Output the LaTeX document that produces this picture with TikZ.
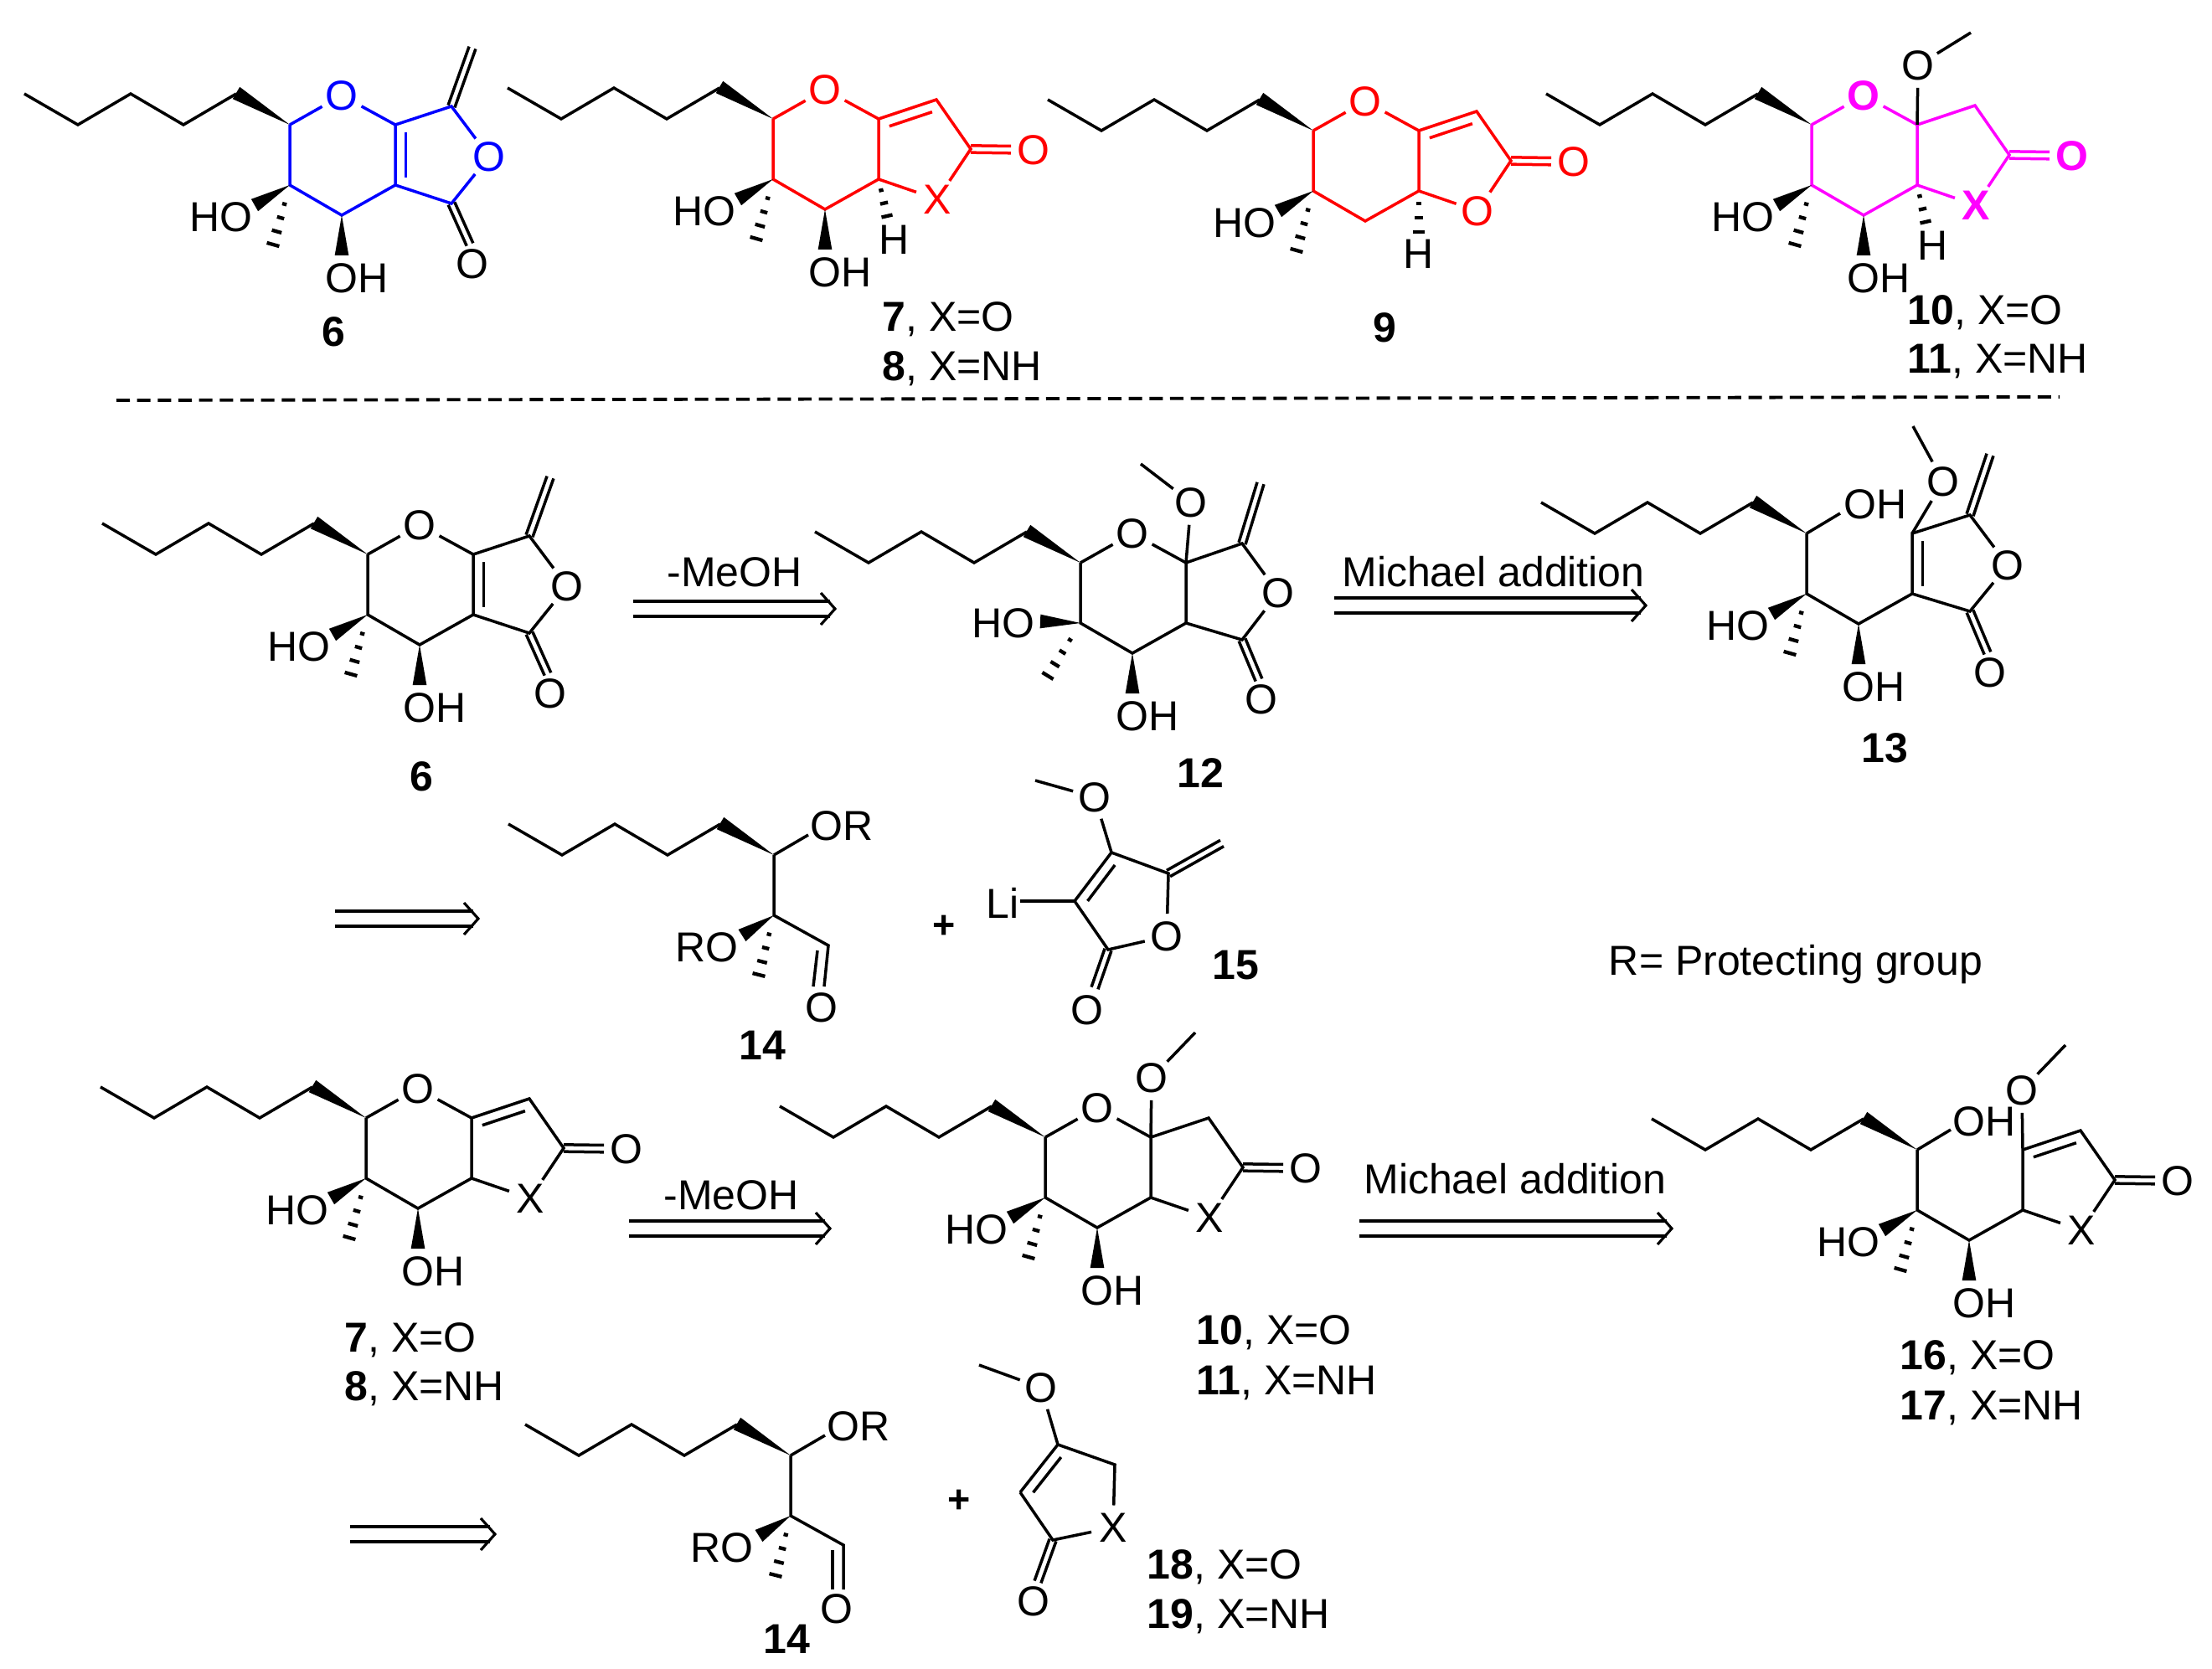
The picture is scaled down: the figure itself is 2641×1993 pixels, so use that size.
\documentclass[tikz,border=0pt]{standalone}
\usepackage{fontspec}
\setmainfont{Liberation Sans}
\usetikzlibrary{calc}
\definecolor{ringblue}{RGB}{0,0,255}
\definecolor{ringred}{RGB}{255,0,0}
\definecolor{ringmag}{RGB}{255,0,255}
\tikzset{
  bond/.style={line width=1.05pt,line join=miter,line cap=butt},
  atom/.style={circle,inner sep=0pt,minimum size=15.5pt,font=\fontsize{15}{18}\selectfont},
  lab/.style={inner sep=0pt,font=\fontsize{15}{18}\selectfont},
  plusmark/.style={inner sep=0pt,font=\fontsize{14}{18}\bfseries\selectfont},
  retroline/.style={line width=1.25pt},
  retrohead/.style={line width=0.95pt,line join=miter},
  sep/.style={line width=1.15pt,dash pattern=on 4.8pt off 2.6pt}
}
% wedge: narrow end at #1, wide end at #2
\newcommand{\wdg}[2]{\fill ($(#2)!2.5pt!90:(#1)$) -- (#1) -- ($(#2)!2.5pt!-90:(#1)$) -- cycle;}
% hashed bonds
\newcommand{\hashb}[2]{%
  \foreach \f/\w in {.32/0.8pt,.55/1.3pt,.78/1.8pt,1/2.3pt}{%
    \coordinate (hh) at ($(#1)!\f!(#2)$);
    \draw[line width=1.3pt] ($(hh)!\w!90:(#1)$) -- ($(hh)!\w!-90:(#1)$);}}
\newcommand{\hashh}[2]{%
  \foreach \f/\w in {.3/0.8pt,.65/1.4pt,1/2pt}{%
    \coordinate (hh) at ($(#1)!\f!(#2)$);
    \draw[line width=1.3pt] ($(hh)!\w!90:(#1)$) -- ($(hh)!\w!-90:(#1)$);}}
% symmetric double bond from coordinate #2 to coordinate #3 (colour/options #1)
\newcommand{\dbl}[3][]{\draw[bond,#1] ($(#2)!1.25pt!90:(#3)$) -- ($(#3)!1.25pt!-90:(#2)$);
  \draw[bond,#1] ($(#2)!1.25pt!-90:(#3)$) -- ($(#3)!1.25pt!90:(#2)$);}
% inner line of a ring double bond
\newcommand{\inn}[4][]{\draw[bond,#1] ($($(#2)!.13!(#3)$)!3.7pt!#4:(#3)$) -- ($($(#3)!.13!(#2)$)!3.7pt!-#4:(#2)$);}
% hexyl-type chain ending at the origin
\newcommand{\chainb}{\draw[bond] (-317,-37) -- (-253,0) -- (-190,-37) -- (-127,0) -- (-64,-37);
  \coordinate (wt) at (0,0); \coordinate (we) at (-64,-38); \wdg{wt}{we}}
\newcommand{\ringcoords}{\coordinate (C5) at (0,0); \coordinate (C4) at (0,72);
  \coordinate (C3) at (62,108); \coordinate (C2) at (126,72); \coordinate (C1) at (126,0);}
% substituents at C4: HO wedge up-left, methyl hash
\newcommand{\hoC}{\coordinate (hoe) at (-42,96); \wdg{C4}{hoe}
  \coordinate (mee) at (-20,143); \hashb{C4}{mee}
  \node[lab] (HO) at (-82,110) {HO};}
\newcommand{\ohC}{\coordinate (ohe) at (62,156); \wdg{C3}{ohe}
  \node[lab] (OH) at (80,183) {OH};}
\newcommand{\pyran}[2]{% colour, extra font
  \node[atom,text=#1,font=\fontsize{15}{18}#2\selectfont] (O5) at (62,-35) {O};
  \draw[bond,#1] (C5) -- (O5) -- (C1) -- (C2) -- (C3) -- (C4) -- (C5);}
\newcommand{\xl}{X}
\newcommand{\lact}[2]{% colour, font
  \coordinate (Ca) at (195,-23); \coordinate (Cc) at (236,36);
  \node[atom,text=#1,font=\fontsize{15}{18}#2\selectfont] (Xr) at (196,96) {\xl};
  \node[atom,text=#1,font=\fontsize{15}{18}#2\selectfont] (Oc) at (311,37) {O};
  \draw[bond,#1] (C1) -- (Ca) -- (Cc) -- (Xr) -- (C2);
  \coordinate (Oct) at ($(Oc)!.36!(Cc)$);
  \dbl[#1]{Cc}{Oct}}
\begin{document}
\begin{tikzpicture}[x=0.3pt,y=-0.3pt]
\path[use as bounding box] (0,0) rectangle (2641,1993);

% ---------- top row: 6 (blue)
\begin{scope}[shift={(346,149)},name prefix=a-]
  \chainb \ringcoords \pyran{ringblue}{}
  \coordinate (Ca) at (193,-22); \coordinate (Cb) at (193,94);
  \node[atom,text=ringblue] (Or) at (238,38) {O};
  \node[atom] (Oc) at (218,166) {O};
  \coordinate (CH2) at (218,-92); \coordinate (Oct) at (215,143);
  \draw[bond,ringblue] (C1) -- (Ca) -- (Or) -- (Cb) -- (C2);
  \dbl{Cb}{Oct}\dbl{Ca}{CH2}
  \inn[ringblue]{C1}{C2}{90}
  \hoC \ohC
\end{scope}
\node[lab] (n6a) at (398,396) {\bfseries 6};

% ---------- top row: 7/8 (red)
\begin{scope}[shift={(923,142)},name prefix=b-]
  \chainb \ringcoords \pyran{ringred}{}
  \lact{ringred}{}
  \inn[ringred]{C1}{Ca}{-90}
  \coordinate (He) at (136,116); \hashh{C2}{He}
  \node[lab] (H) at (145,144) {H};
  \hoC \ohC
\end{scope}
\node[lab,anchor=west] (n7a) at (1053,381) {\textbf{7}, X=O};
\node[lab,anchor=west] (n8a) at (1053,440) {\textbf{8}, X=NH};

% ---------- top row: 9 (red)
\begin{scope}[shift={(1568,156)},name prefix=c-]
  \renewcommand{\xl}{O}
  \chainb \ringcoords \pyran{ringred}{}
  \lact{ringred}{}
  \inn[ringred]{C1}{Ca}{-90}
  \coordinate (He) at (126,121); \hashh{C2}{He}
  \node[lab] (H) at (126,147) {H};
  \hoC
\end{scope}
\node[lab] (n9) at (1653,391) {\bfseries 9};

% ---------- top row: 10/11 (magenta)
\begin{scope}[shift={(2163,149)},name prefix=d-]
  \chainb \ringcoords \pyran{ringmag}{\bfseries}
  \lact{ringmag}{\bfseries}
  \node[atom] (Om) at (127,-71) {O};
  \coordinate (Me) at (190,-110);
  \draw[bond] (C1) -- (Om) -- (Me);
  \coordinate (He) at (136,116); \hashh{C2}{He}
  \node[lab] (H) at (145,144) {H};
  \hoC \ohC
\end{scope}
\node[lab,anchor=west] (n10a) at (2277,373) {\textbf{10}, X=O};
\node[lab,anchor=west] (n11a) at (2277,431) {\textbf{11}, X=NH};

% ---------- separator
\coordinate (sepL) at (139,478); \coordinate (sepR) at (2459,474);
\draw[sep] (sepL) -- (sepR);

% ---------- second row: 6
\begin{scope}[shift={(439,662)},name prefix=e-]
  \chainb \ringcoords \pyran{black}{}
  \coordinate (Ca) at (193,-22); \coordinate (Cb) at (193,94);
  \node[atom] (Or) at (238,38) {O};
  \node[atom] (Oc) at (218,166) {O};
  \coordinate (CH2) at (218,-92); \coordinate (Oct) at (215,143);
  \draw[bond] (C1) -- (Ca) -- (Or) -- (Cb) -- (C2);
  \dbl{Cb}{Oct}\dbl{Ca}{CH2}
  \inn{C1}{C2}{90}
  \hoC \ohC
\end{scope}
\node[lab] (n6b) at (503,927) {\bfseries 6};

% ---------- arrows
\newcommand{\retro}[4]{% name, x start, x tip, y
  \coordinate (#1s1) at (#2,#4-9); \coordinate (#1s2) at (#2,#4+9);
  \coordinate (#1e1) at (#3-6,#4-9); \coordinate (#1e2) at (#3-6,#4+9);
  \coordinate (#1t) at (#3,#4); \coordinate (#1u) at (#3-17,#4-19); \coordinate (#1d) at (#3-17,#4+19);
  \draw[retroline] (#1s1) -- (#1e1);
  \draw[retroline] (#1s2) -- (#1e2);
  \draw[retrohead] (#1u) -- (#1t) -- (#1d);}
\retro{ra}{756}{997}{727}
\node[lab] (mea) at (877,683) {-MeOH};
\retro{rb}{1593}{1965}{723}
\node[lab] (mia) at (1783,683) {Michael addition};
\retro{rc}{400}{571}{1097}
\retro{rd}{751}{991}{1467}
\node[lab] (meb) at (873,1427) {-MeOH};
\retro{re}{1623}{1996}{1467}
\node[lab] (mib) at (1809,1408) {Michael addition};
\retro{rf}{418}{591}{1832}

% ---------- 12
\begin{scope}[shift={(1290,672)},name prefix=f-]
  \chainb \ringcoords \pyran{black}{}
  \coordinate (Ca) at (193,-23); \coordinate (Cb) at (193,92);
  \node[atom] (Or) at (236,36) {O};
  \node[atom] (Oc) at (216,163) {O};
  \coordinate (CH2) at (215,-95); \coordinate (Oct) at (213,140);
  \draw[bond] (C1) -- (Ca) -- (Or) -- (Cb) -- (C2);
  \dbl{Cb}{Oct}\dbl{Ca}{CH2}
  \node[atom] (Om) at (132,-72) {O};
  \coordinate (Me) at (72,-118);
  \draw[bond] (C1) -- (Om) -- (Me);
  \coordinate (hoe) at (-48,70); \wdg{C4}{hoe}
  \coordinate (mee) at (-39,135); \hashb{C4}{mee}
  \node[lab] (HO) at (-92,72) {HO};
  \ohC
\end{scope}
\node[lab] (n12) at (1433,923) {\bfseries 12};

% ---------- 13
\begin{scope}[shift={(2157,637)},name prefix=g-]
  \chainb \ringcoords
  \coordinate (OHe) at (40,-24);
  \node[lab] (OHt) at (82,-35) {OH};
  \coordinate (Ca) at (195,-22); \coordinate (Cb) at (195,93);
  \node[atom] (Or) at (240,38) {O};
  \node[atom] (Oc) at (219,166) {O};
  \coordinate (CH2) at (219,-94); \coordinate (Oct) at (216,143);
  \node[atom] (Om) at (163,-62) {O};
  \coordinate (Me) at (127,-128);
  \draw[bond] (C5) -- (OHe);
  \draw[bond] (C5) -- (C4) -- (C3) -- (C2) -- (C1) -- (Ca) -- (Or) -- (Cb) -- (C2);
  \draw[bond] (C1) -- (Om) -- (Me);
  \dbl{Cb}{Oct}\dbl{Ca}{CH2}
  \inn{C1}{C2}{90}
  \hoC \ohC
\end{scope}
\node[lab] (n13) at (2250,893) {\bfseries 13};

% ---------- 14 (row 3)
\begin{scope}[shift={(924,1021)},name prefix=h-]
  \chainb \ringcoords
  \coordinate (ORe) at (41,-24);
  \node[lab] (OR) at (81,-35) {OR};
  \coordinate (CHO) at (65,108); \coordinate (Oe) at (60,157);
  \node[atom] (Oc) at (57,182) {O};
  \draw[bond] (C5) -- (ORe);
  \draw[bond] (C5) -- (C4) -- (CHO) -- (Oe);
  \draw[bond] ($(CHO)+(-13,6)$) -- ($(Oe)+(-13,0)$);
  \coordinate (hoe) at (-38,96); \wdg{C4}{hoe}
  \coordinate (mee) at (-18,143); \hashb{C4}{mee}
  \node[lab] (RO) at (-80,110) {RO};
\end{scope}
\node[lab] (n14a) at (910,1248) {\bfseries 14};
\node[plusmark] (pa) at (1127,1107) {+};

% ---------- 15
\begin{scope}[name prefix=i-]
  \coordinate (Cx) at (1327,1018); \coordinate (Cl) at (1283,1076);
  \coordinate (Cc) at (1323,1134); \coordinate (Cy) at (1395,1043);
  \coordinate (CH2) at (1459,1007); \coordinate (Oct) at (1307,1180);
  \node[atom] (Or) at (1393,1118) {O};
  \node[atom] (Oc) at (1298,1206) {O};
  \node[atom] (Om) at (1307,952) {O};
  \coordinate (Me) at (1236,932);
  \node[lab] (Li) at (1197,1078) {Li};
  \draw[bond] (Cl) -- (Cx) -- (Cy) -- (Or) -- (Cc) -- (Cl);
  \draw[bond] (Cx) -- (Om) -- (Me);
  \coordinate (Lie) at (1218,1076);
  \draw[bond] (Cl) -- (Lie);
  \inn{Cx}{Cl}{90}
  \dbl{Cc}{Oct}\dbl{Cy}{CH2}
\end{scope}
\node[lab] (n15) at (1475,1153) {\bfseries 15};
\node[lab] (prot) at (2144,1152) {R= Protecting group};

% ---------- 7/8 (row 4)
\begin{scope}[shift={(437,1335)},name prefix=j-]
  \chainb \ringcoords \pyran{black}{}
  \lact{black}{}
  \inn{C1}{Ca}{-90}
  \hoC \ohC
\end{scope}
\node[lab,anchor=west] (n7b) at (411,1600) {\textbf{7}, X=O};
\node[lab,anchor=west] (n8b) at (411,1658) {\textbf{8}, X=NH};

% ---------- 10/11 (row 4)
\begin{scope}[shift={(1248,1358)},name prefix=k-]
  \chainb \ringcoords \pyran{black}{}
  \lact{black}{}
  \node[atom] (Om) at (127,-71) {O};
  \coordinate (Me) at (179,-125);
  \draw[bond] (C1) -- (Om) -- (Me);
  \hoC \ohC
\end{scope}
\node[lab,anchor=west] (n10b) at (1428,1591) {\textbf{10}, X=O};
\node[lab,anchor=west] (n11b) at (1428,1651) {\textbf{11}, X=NH};

% ---------- 16/17
\begin{scope}[shift={(2289,1373)},name prefix=l-]
  \chainb \ringcoords
  \coordinate (OHe) at (40,-24);
  \node[lab] (OHt) at (80,-34) {OH};
  \draw[bond] (C5) -- (OHe);
  \draw[bond] (C5) -- (C4) -- (C3) -- (C2) -- (C1);
  \lact{black}{}
  \inn{C1}{Ca}{-90}
  \node[atom] (Om) at (125,-71) {O};
  \coordinate (Me) at (177,-125);
  \draw[bond] (C1) -- (Om) -- (Me);
  \hoC \ohC
\end{scope}
\node[lab,anchor=west] (n16) at (2268,1621) {\textbf{16}, X=O};
\node[lab,anchor=west] (n17) at (2268,1681) {\textbf{17}, X=NH};

% ---------- 14 (row 5)
\begin{scope}[shift={(944,1738)},name prefix=m-]
  \chainb \ringcoords
  \coordinate (ORe) at (41,-24);
  \node[lab] (OR) at (81,-35) {OR};
  \coordinate (CHO) at (63,107); \coordinate (Oe) at (63,160);
  \node[atom] (Oc) at (55,183) {O};
  \draw[bond] (C5) -- (ORe);
  \draw[bond] (C5) -- (C4) -- (CHO) -- (Oe);
  \draw[bond] ($(CHO)+(-13,6)$) -- ($(Oe)+(-13,0)$);
  \coordinate (hoe) at (-38,96); \wdg{C4}{hoe}
  \coordinate (mee) at (-18,143); \hashb{C4}{mee}
  \node[lab] (RO) at (-82,110) {RO};
\end{scope}
\node[lab] (n14b) at (939,1957) {\bfseries 14};
\node[plusmark] (pb) at (1145,1793) {+};

% ---------- 18/19
\begin{scope}[name prefix=n-]
  \coordinate (Cx) at (1263,1725); \coordinate (Cy) at (1331,1749);
  \coordinate (Cc) at (1257,1839); \coordinate (Cl) at (1218,1782);
  \coordinate (Oct) at (1239,1889);
  \node[atom] (Xr) at (1329,1824) {X};
  \node[atom] (Oc) at (1234,1912) {O};
  \node[atom] (Om) at (1243,1657) {O};
  \coordinate (Me) at (1169,1630);
  \draw[bond] (Cl) -- (Cx) -- (Cy) -- (Xr) -- (Cc) -- (Cl);
  \draw[bond] (Cx) -- (Om) -- (Me);
  \inn{Cx}{Cl}{90}
  \dbl{Cc}{Oct}
\end{scope}
\node[lab,anchor=west] (n18) at (1369,1871) {\textbf{18}, X=O};
\node[lab,anchor=west] (n19) at (1369,1930) {\textbf{19}, X=NH};
\end{tikzpicture}
\end{document}
